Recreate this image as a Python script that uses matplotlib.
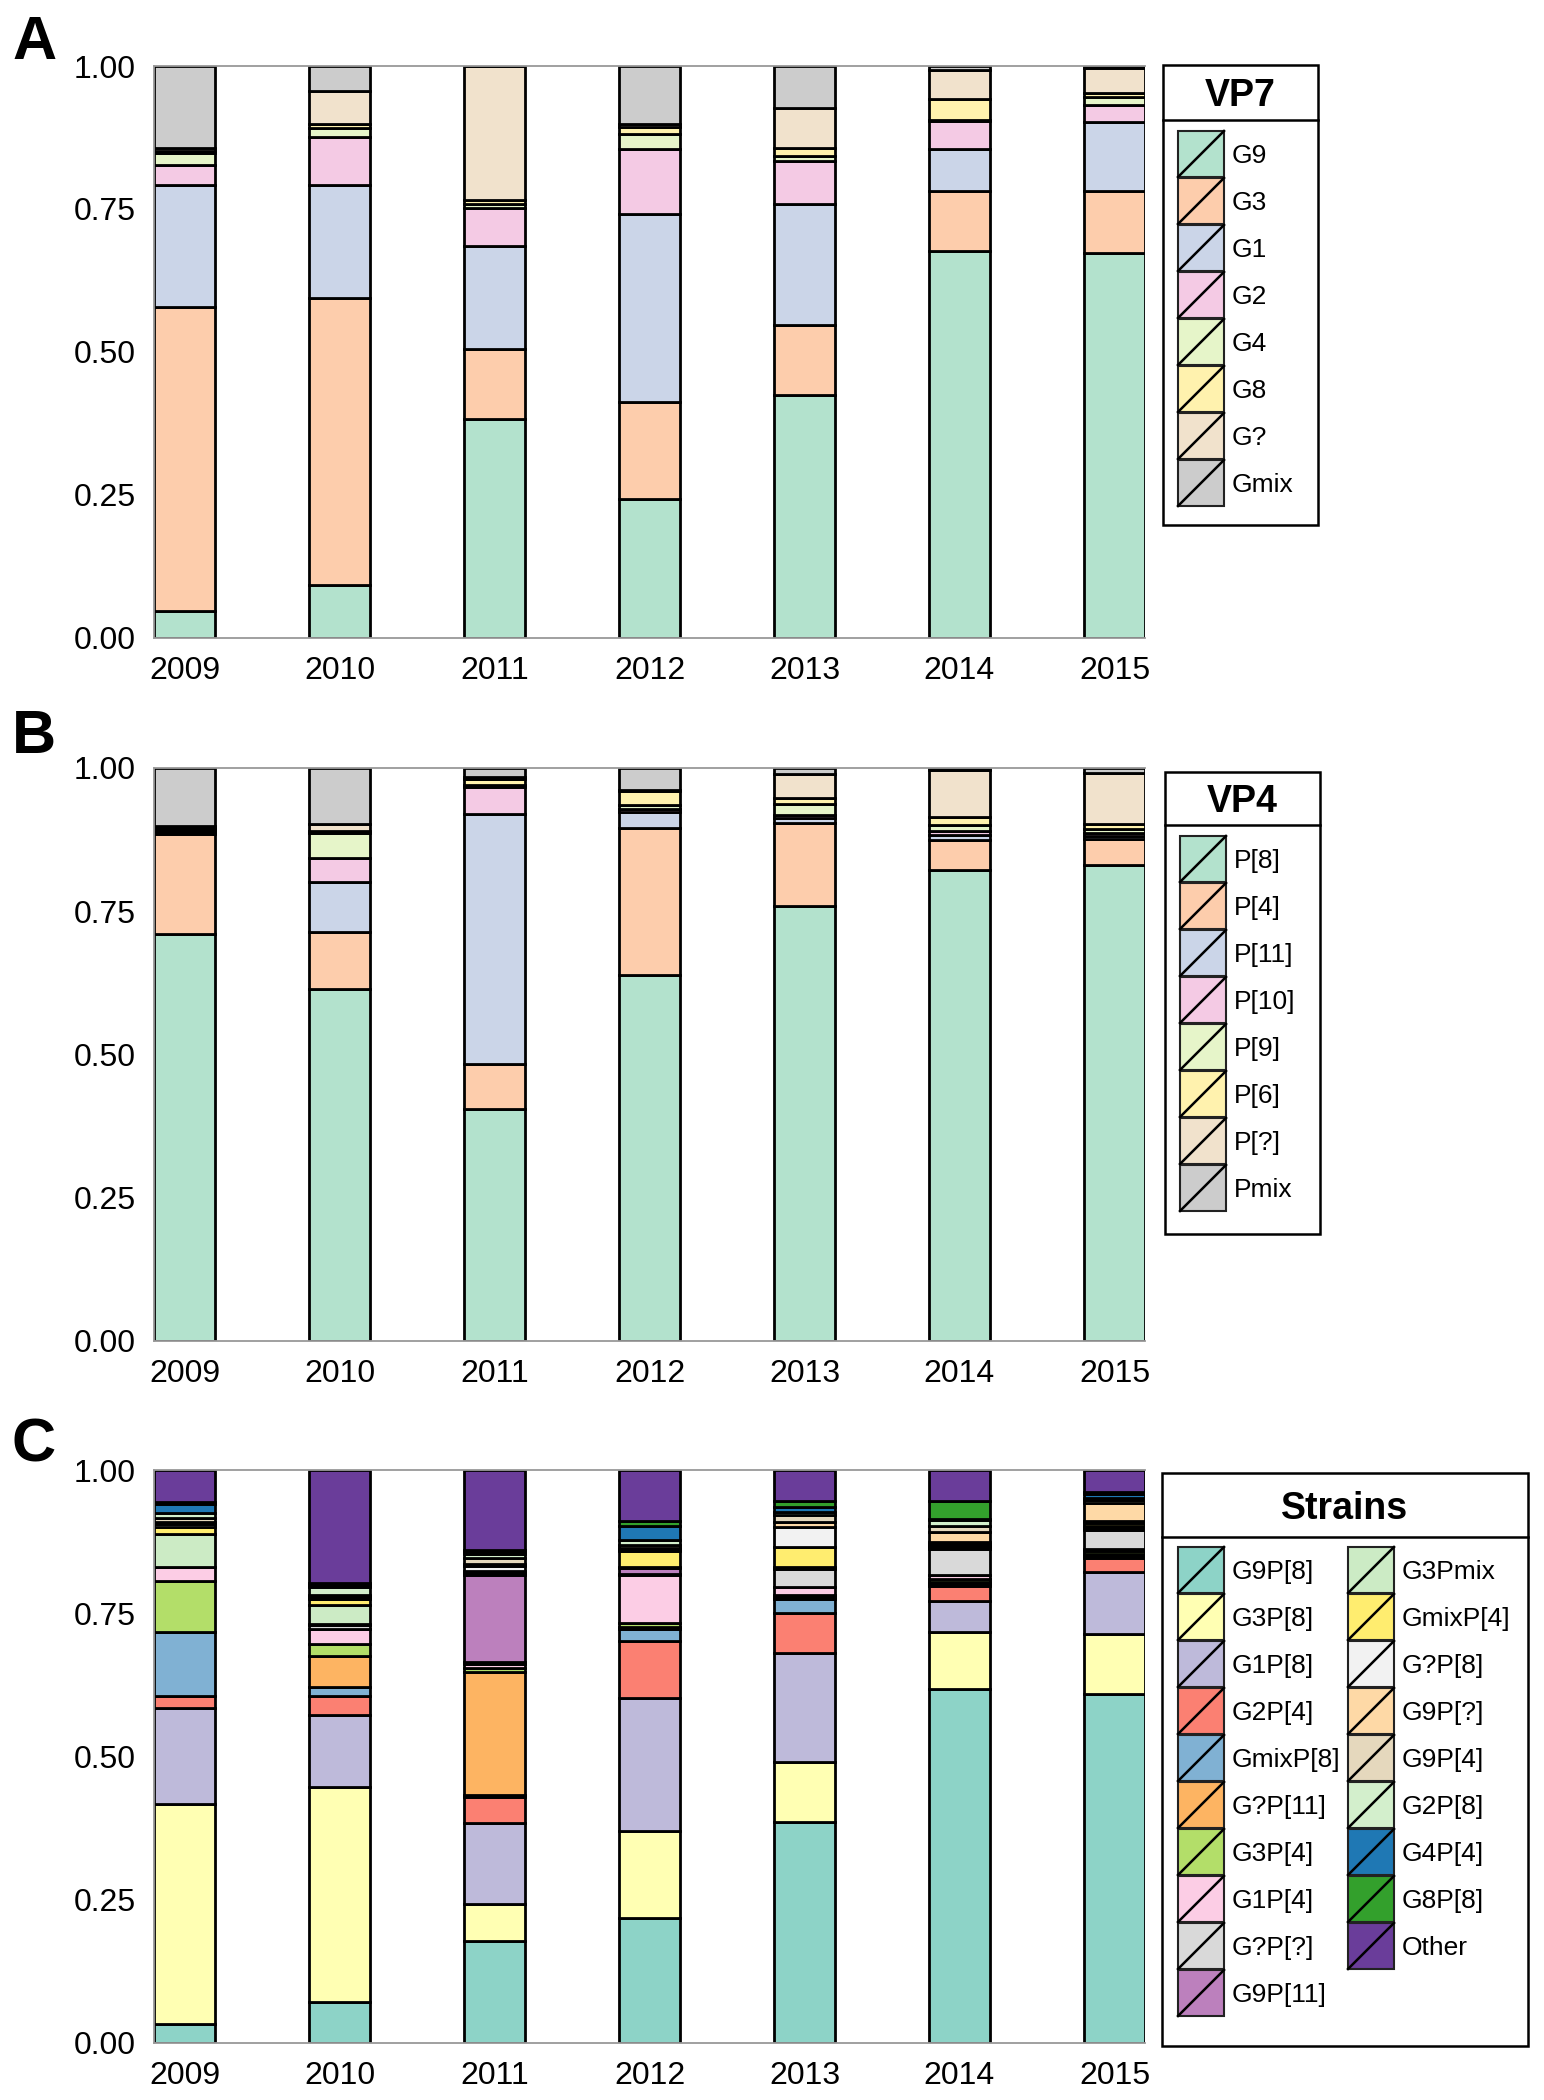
import numpy as np
import matplotlib.pyplot as plt
from matplotlib.patches import Rectangle

plt.rcParams['font.family'] = ['Liberation Sans', 'DejaVu Sans']

W, H = 1544, 2100

years = ['2009', '2010', '2011', '2012', '2013', '2014', '2015']

# ---- panel A: VP7 ----
vp7_labels = ['G9', 'G3', 'G1', 'G2', 'G4', 'G8', 'G?', 'Gmix']
g9   = [0.046, 0.091, 0.382, 0.243, 0.424, 0.676, 0.672]
g3   = [0.533, 0.503, 0.122, 0.169, 0.123, 0.106, 0.110]
g1   = [0.212, 0.198, 0.181, 0.329, 0.212, 0.072, 0.120]
g2   = [0.035, 0.083, 0.066, 0.114, 0.075, 0.049, 0.030]
g4   = [0.021, 0.016, 0.007, 0.026, 0.009, 0.003, 0.013]
g8   = [0.005, 0.008, 0.007, 0.013, 0.013, 0.037, 0.008]
gunk = [0.005, 0.057, 0.235, 0.004, 0.071, 0.050, 0.043]
gmix = [0.143, 0.044, 0.000, 0.102, 0.073, 0.007, 0.004]

# ---- panel B: VP4 ----
vp4_labels = ['P[8]', 'P[4]', 'P[11]', 'P[10]', 'P[9]', 'P[6]', 'P[?]', 'Pmix']
p8   = [0.710, 0.614, 0.404, 0.639, 0.759, 0.822, 0.831]
p4   = [0.174, 0.100, 0.079, 0.256, 0.145, 0.053, 0.045]
p11  = [0.004, 0.087, 0.437, 0.029, 0.008, 0.008, 0.006]
p10  = [0.003, 0.041, 0.047, 0.004, 0.006, 0.007, 0.005]
p9   = [0.003, 0.044, 0.003, 0.007, 0.019, 0.010, 0.007]
p6   = [0.002, 0.004, 0.011, 0.024, 0.010, 0.015, 0.009]
punk = [0.003, 0.012, 0.004, 0.003, 0.043, 0.082, 0.089]
pmix = [0.101, 0.098, 0.015, 0.038, 0.010, 0.003, 0.008]

pastel = ['#b3e2cd', '#fdcdac', '#cbd5e8', '#f4cae4',
          '#e6f5c9', '#fff2ae', '#f1e2cc', '#cccccc']

# ---- panel C: strains ----
strain_labels = ['G9P[8]', 'G3P[8]', 'G1P[8]', 'G2P[4]', 'GmixP[8]', 'G?P[11]',
                 'G3P[4]', 'G1P[4]', 'G?P[?]', 'G9P[11]', 'G3Pmix', 'GmixP[4]',
                 'G?P[8]', 'G9P[?]', 'G9P[4]', 'G2P[8]', 'G4P[4]', 'G8P[8]', 'Other']
s_g9p8    = [0.033, 0.072, 0.178, 0.218, 0.386, 0.618, 0.609]
s_g3p8    = [0.384, 0.374, 0.065, 0.152, 0.104, 0.100, 0.104]
s_g1p8    = [0.168, 0.126, 0.141, 0.232, 0.191, 0.053, 0.109]
s_g2p4    = [0.021, 0.034, 0.046, 0.100, 0.069, 0.027, 0.024]
s_gmixp8  = [0.111, 0.016, 0.002, 0.021, 0.024, 0.003, 0.004]
s_gup11   = [0.000, 0.053, 0.215, 0.003, 0.004, 0.003, 0.004]
s_g3p4    = [0.089, 0.022, 0.007, 0.007, 0.004, 0.005, 0.004]
s_g1p4    = [0.024, 0.026, 0.007, 0.083, 0.014, 0.007, 0.004]
s_gupu    = [0.000, 0.006, 0.004, 0.002, 0.031, 0.046, 0.033]
s_g9p11   = [0.000, 0.003, 0.151, 0.011, 0.002, 0.003, 0.004]
s_g3pmix  = [0.058, 0.032, 0.004, 0.002, 0.002, 0.003, 0.004]
s_gmixp4  = [0.013, 0.010, 0.003, 0.027, 0.034, 0.003, 0.004]
s_gup8    = [0.004, 0.003, 0.009, 0.003, 0.035, 0.004, 0.004]
s_g9pu    = [0.005, 0.003, 0.004, 0.003, 0.010, 0.017, 0.031]
s_g9p4    = [0.007, 0.002, 0.010, 0.005, 0.012, 0.010, 0.005]
s_g2p8    = [0.008, 0.014, 0.008, 0.008, 0.004, 0.010, 0.005]
s_g4p4    = [0.015, 0.003, 0.003, 0.026, 0.010, 0.003, 0.006]
s_g8p8    = [0.004, 0.003, 0.003, 0.008, 0.010, 0.031, 0.004]
s_other   = [0.056, 0.198, 0.140, 0.089, 0.054, 0.054, 0.038]

strain_colors = ['#8dd3c7', '#ffffb3', '#bebada', '#fb8072', '#80b1d3', '#fdb462',
                 '#b3de69', '#fccde5', '#d9d9d9', '#bc80bd', '#ccebc5', '#ffed6f',
                 '#f2f2f2', '#fed9a6', '#e5d8bd', '#d3efcc', '#1f78b4', '#33a02c',
                 '#6a3d9a']

vp7 = [g9, g3, g1, g2, g4, g8, gunk, gmix]
vp4 = [p8, p4, p11, p10, p9, p6, punk, pmix]
strains = [s_g9p8, s_g3p8, s_g1p8, s_g2p4, s_gmixp8, s_gup11, s_g3p4, s_g1p4,
           s_gupu, s_g9p11, s_g3pmix, s_gmixp4, s_gup8, s_g9pu, s_g9p4, s_g2p8,
           s_g4p4, s_g8p8, s_other]


def px_axes(fig, x0, y0, x1, y1):
    return fig.add_axes([x0 / W, 1 - y1 / H, (x1 - x0) / W, (y1 - y0) / H])


def draw_bars(ax, series, colors):
    x = np.arange(len(years))
    bottom = np.zeros(len(years))
    for vals, c in zip(series, colors):
        vals = np.array(vals)
        ax.bar(x, vals, 0.394, bottom=bottom, color=c, edgecolor='black', linewidth=2.0)
        bottom += vals
    ax.set_xlim(-0.197, len(years) - 1 + 0.197)
    ax.set_ylim(0, 1)
    ax.set_xticks(x)
    ax.set_xticklabels(years)
    ax.set_yticks([0, 0.25, 0.5, 0.75, 1.0])
    ax.set_yticklabels(['0.00', '0.25', '0.50', '0.75', '1.00'])
    ax.tick_params(axis='both', length=0, labelsize=23)
    ax.tick_params(axis='y', pad=13)
    ax.tick_params(axis='x', pad=13)
    for s in ['left', 'bottom', 'top']:
        ax.spines[s].set_color('#999999')
        ax.spines[s].set_linewidth(1.3)
    ax.spines['right'].set_visible(False)


def draw_key(fig, box, sep, title, labels, colors, cols):
    x0, y0, x1, y1 = box
    ax = px_axes(fig, x0 - 3, y0 - 3, x1 + 3, y1 + 3)
    ax.set_xlim(x0 - 3, x1 + 3)
    ax.set_ylim(y1 + 3, y0 - 3)
    ax.axis('off')
    ax.add_patch(Rectangle((x0, y0), x1 - x0, y1 - y0, fill=False,
                           edgecolor='black', linewidth=1.8))
    ax.plot([x0, x1], [sep, sep], color='black', linewidth=1.8)
    ax.text((x0 + x1) / 2, (y0 + sep) / 2 + 4, title, ha='center', va='center',
            fontsize=27, fontweight='bold')
    for i, (lab, c) in enumerate(zip(labels, colors)):
        px, top, n = cols[0] if i < cols[0][2] else cols[1]
        j = i if i < cols[0][2] else i - cols[0][2]
        ty = top + j * 47
        ax.add_patch(Rectangle((px, ty), 46, 46, facecolor=c,
                               edgecolor='#222222', linewidth=1.5))
        ax.plot([px, px + 46], [ty + 46, ty], color='black', linewidth=1.8)
        ax.text(px + 54, ty + 25, lab, ha='left', va='center', fontsize=19)


fig = plt.figure(figsize=(W / 100, H / 100), dpi=100)

axA = px_axes(fig, 154, 66, 1145, 637.5)
draw_bars(axA, vp7, pastel)
axB = px_axes(fig, 154, 768, 1145, 1340.5)
draw_bars(axB, vp4, pastel)
axC = px_axes(fig, 154, 1470, 1145, 2043)
draw_bars(axC, strains, strain_colors)

draw_key(fig, (1163, 65, 1318, 525), 120, 'VP7', vp7_labels, pastel,
         [(1178, 131, 8), (1178, 131, 8)])
draw_key(fig, (1165, 772, 1320, 1234), 825, 'VP4', vp4_labels, pastel,
         [(1180, 836, 8), (1180, 836, 8)])
draw_key(fig, (1162, 1473, 1528, 2046), 1537, 'Strains', strain_labels, strain_colors,
         [(1178, 1547, 10), (1348, 1547, 9)])

for letter, ypx in [('A', 15), ('B', 709), ('C', 1417)]:
    fig.text(12 / W, 1 - ypx / H, letter, fontsize=44, fontweight='bold',
             ha='left', va='top')

fig.savefig('out.png', dpi=100)
